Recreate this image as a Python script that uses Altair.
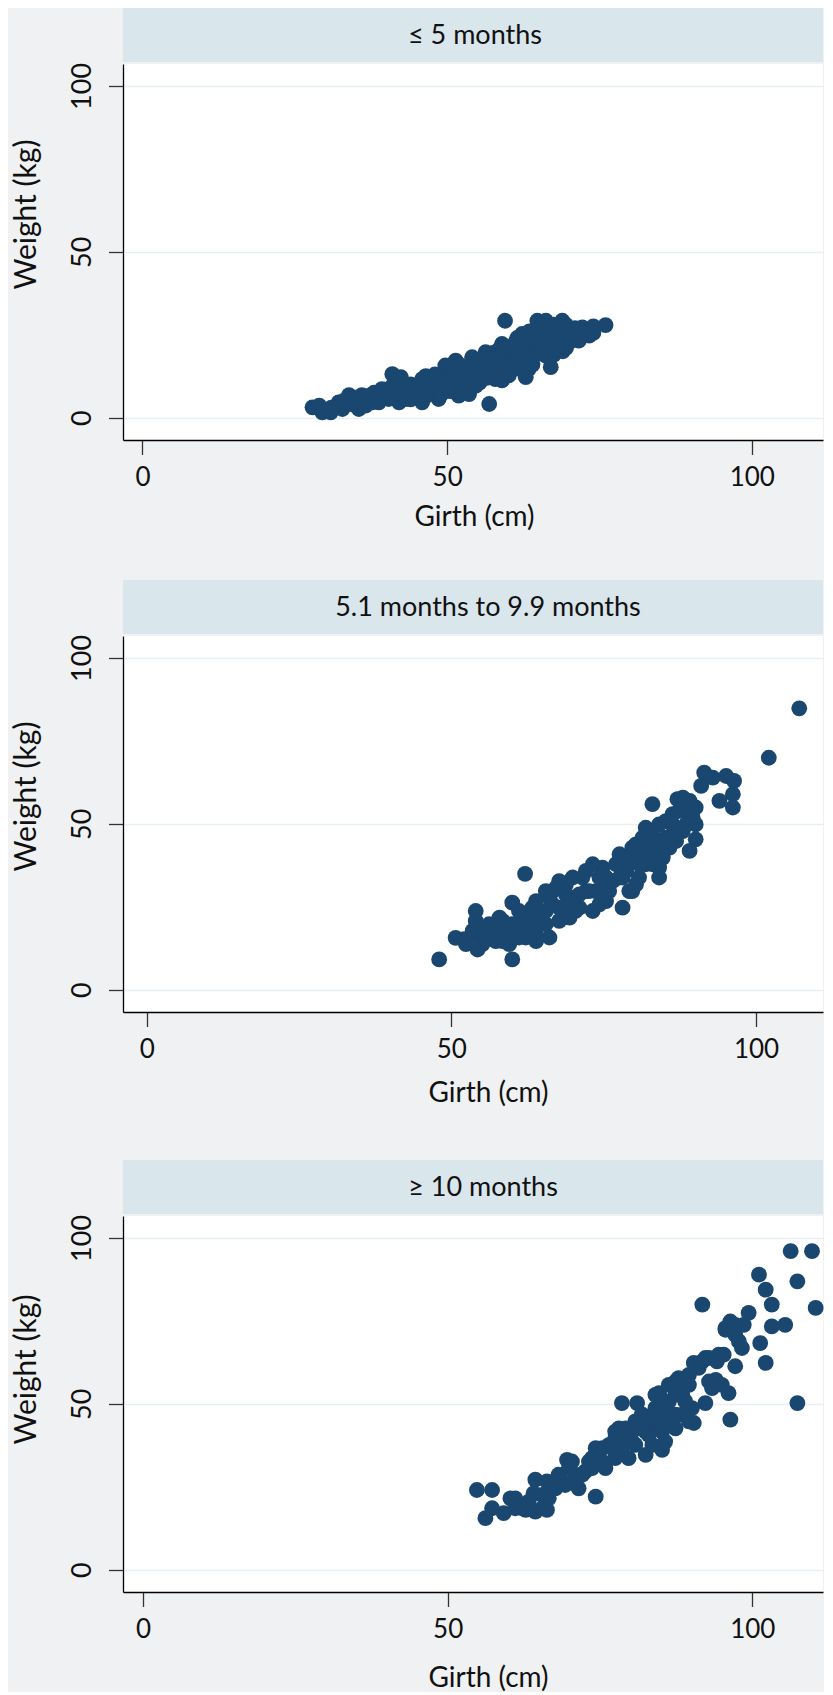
import altair as alt
import pandas as pd

PANELS = ["≤ 5 months", "5.1 months to 9.9 months", "≥ 10 months"]
X_TICKS = [0, 50, 100]
Y_TICKS = [0, 50, 100]

P1_GIRTH = [27.9, 29.5, 30.9, 33.9, 32.2, 35.5, 37.2, 38.8, 41.0, 42.4, 40.4, 42.1, 45.9, 45.9,
            43.7, 48.1, 49.7, 51.9, 51.4, 49.7, 53.0, 54.1, 54.7, 56.9, 56.3, 55.8, 59.0, 57.9,
            59.5, 59.0, 61.2, 61.2, 62.3, 63.4, 62.9, 64.8, 66.2, 67.0, 65.6, 66.2, 68.9, 68.3,
            70.0, 70.5, 72.2, 73.3, 76.0, 67.8, 64.5, 60.1, 56.9, 52.5, 50.3, 47.5, 44.8, 39.3,
            37.7, 35.0, 32.8, 48.6, 54.7, 57.9, 61.8, 60.1, 53.6, 63.4, 69.0, 71.6, 29.0, 36.6,
            40.4, 43.2, 64.0,
            31.0, 33.0, 33.0, 34.5, 34.5, 36.0, 36.0, 38.0, 38.0, 39.5, 41.0, 41.0, 42.5, 42.5,
            44.0, 44.0, 45.0, 45.0, 46.5, 46.5, 46.5, 48.0, 48.0, 49.0, 49.0, 50.5, 50.5, 50.5,
            52.0, 52.0, 52.0, 53.0, 53.0, 54.0, 54.0, 54.0, 55.3, 55.3, 55.3, 56.5, 56.5, 56.5,
            57.5, 57.5, 58.5, 58.5, 58.5, 59.8, 59.8, 60.5, 60.5, 61.5, 61.5, 61.5, 62.5, 62.5,
            62.5, 63.5, 63.5, 63.5, 64.5, 64.5, 64.5, 65.5, 65.5, 65.5, 66.5, 66.5, 66.5, 67.5,
            67.5, 67.5, 68.5, 68.5, 69.5, 69.5, 69.5, 71.0, 71.0, 72.5, 74.0, 74.0]
P1_WEIGHT = [3.1, 1.6, 1.6, 6.8, 4.6, 2.6, 6.6, 4.6, 13.1, 12.2, 8.6, 4.6, 11.6, 4.6,
             7.6, 7.6, 15.7, 6.6, 17.2, 9.6, 12.7, 18.2, 9.6, 4.1, 19.7, 12.7, 11.2, 16.7,
             29.2, 22.2, 22.7, 14.7, 25.2, 19.7, 12.2, 29.2, 29.2, 15.2, 24.7, 18.7, 29.2, 20.7,
             22.7, 26.7, 27.2, 24.7, 27.9, 24.7, 21.7, 18.7, 14.7, 9.6, 13.7, 11.6, 8.6, 8.6,
             4.6, 5.6, 2.6, 5.6, 14.7, 11.6, 18.7, 12.7, 7.1, 14.7, 20.0, 23.2, 3.6, 3.6,
             5.6, 5.6, 16.0,
             3.0, 3.5, 5.0, 4.0, 6.0, 4.5, 6.8, 5.5, 7.5, 6.0, 6.0, 9.5, 7.0, 9.0,
             5.5, 10.0, 7.0, 9.5, 6.5, 9.0, 12.5, 10.0, 13.0, 7.0, 11.5, 8.0, 11.0, 15.5,
             10.5, 13.5, 16.0, 9.0, 15.0, 11.0, 13.0, 16.5, 10.5, 14.0, 17.5, 12.0, 16.0, 18.5,
             13.5, 19.5, 14.0, 17.5, 20.5, 15.0, 20.0, 16.0, 21.0, 17.0, 20.0, 24.0, 15.0, 18.0,
             22.0, 17.0, 22.5, 26.0, 19.0, 24.0, 26.0, 20.5, 22.0, 26.0, 21.0, 25.0, 27.5, 19.0,
             22.5, 28.0, 23.0, 26.0, 21.0, 25.0, 28.0, 25.0, 27.0, 25.5, 25.5, 27.5]

P2_GIRTH = [48.0, 60.0, 54.0, 54.0, 52.1, 52.4, 54.3, 55.7, 57.3, 58.4, 60.0, 62.1, 61.1, 62.2,
            63.9, 64.4, 66.1, 65.5, 66.6, 67.7, 67.7, 69.4, 69.9, 71.0, 72.1, 73.2, 73.7, 74.8,
            75.4, 76.5, 77.6, 78.1, 78.7, 79.2, 80.3, 80.3, 81.9, 81.9, 83.0, 83.0, 84.1, 84.1,
            85.2, 84.1, 86.3, 87.1, 86.9, 89.1, 90.1, 90.1, 90.1, 89.1, 88.0, 91.0, 91.5, 92.9,
            95.1, 96.4, 96.2, 94.0, 96.2, 102.1, 107.1, 62.8, 66.1, 68.8, 71.0, 72.1, 74.8, 77.6,
            80.8, 79.7, 57.9, 55.7, 59.5, 63.9, 67.7, 69.4, 75.4, 73.2, 77.6, 79.7, 81.9, 83.0,
            84.7, 86.3, 88.5, 88.0, 50.7, 55.1, 57.3, 61.1, 63.9,
            53.5, 56.2, 58.4, 59.5, 61.1, 62.2, 63.3, 64.4, 65.5, 65.5, 66.6, 67.2, 68.8, 69.9,
            70.4, 71.5, 72.6, 74.3, 74.3, 75.9, 77.0, 78.1, 78.7, 79.7, 80.8, 81.4, 82.5, 83.0,
            83.6, 85.2, 85.8, 87.4, 88.5, 89.6, 89.1, 86.3, 84.7, 54.6, 57.3, 60.0]
P2_WEIGHT = [9.1, 9.1, 23.7, 20.7, 15.2, 13.7, 12.1, 15.7, 18.7, 14.6, 26.2, 34.9, 19.7, 15.7,
             26.7, 19.7, 15.7, 23.7, 29.7, 32.7, 24.7, 21.7, 33.8, 28.7, 35.8, 23.7, 29.7, 36.8,
             26.7, 32.8, 40.8, 24.7, 35.8, 29.7, 43.8, 31.7, 48.8, 37.8, 55.9, 42.8, 49.8, 33.8,
             45.8, 36.8, 52.9, 57.4, 44.8, 56.9, 54.9, 49.8, 45.3, 41.8, 47.8, 61.4, 65.4, 63.9,
             64.4, 62.9, 58.9, 56.9, 54.9, 69.9, 84.8, 21.7, 27.7, 28.7, 24.7, 29.7, 29.7, 33.8,
             37.8, 29.7, 21.7, 17.7, 13.7, 16.7, 20.7, 25.7, 33.8, 37.8, 37.8, 39.8, 41.8, 46.8,
             43.8, 49.8, 53.9, 57.9, 15.6, 13.7, 14.6, 15.7, 14.6,
             17.7, 19.7, 20.7, 17.7, 23.7, 18.7, 24.7, 22.7, 29.7, 19.7, 25.7, 30.7, 31.7, 27.7,
             23.7, 33.8, 29.7, 33.8, 25.7, 29.7, 37.8, 33.8, 39.8, 42.8, 33.8, 45.8, 39.8, 37.8,
             44.8, 50.8, 42.8, 53.9, 49.8, 51.9, 55.9, 46.8, 39.8, 15.7, 16.7, 19.7]

P3_GIRTH = [54.8, 57.3, 56.2, 57.3, 60.3, 59.2, 62.8, 64.4, 66.3, 64.4, 64.1, 66.3, 66.6, 68.8,
            69.6, 71.0, 71.5, 73.2, 74.3, 75.4, 75.9, 77.5, 78.1, 78.6, 81.1, 79.7, 80.8, 82.5,
            83.0, 84.7, 85.2, 85.7, 86.3, 87.9, 87.4, 88.5, 90.4, 90.1, 90.4, 92.3, 91.8, 92.3,
            94.0, 94.2, 95.3, 96.1, 96.4, 97.2, 95.6, 96.4, 98.3, 98.6, 99.4, 101.3, 102.2, 101.1,
            102.2, 103.2, 103.2, 105.4, 106.3, 109.8, 107.4, 110.4, 107.4, 72.1, 73.7, 76.5, 78.6,
            80.3, 81.9, 84.1, 83.6, 86.3, 88.5, 89.6, 85.2, 80.8, 77.5, 74.8, 69.9, 67.7, 68.2,
            61.1, 63.3, 87.4, 82.5, 79.7, 83.6, 95.0,
            61.1, 62.2, 65.5, 65.5, 67.2, 69.3, 70.4, 71.0, 72.6, 73.7, 74.3, 75.4, 77.0, 77.5,
            78.6, 79.2, 80.3, 81.4, 81.9, 83.0, 84.1, 84.1, 85.2, 85.7, 86.3, 87.4, 87.4, 88.5,
            89.0, 89.6, 89.6, 91.2, 91.8, 92.9, 94.5, 95.6, 97.2, 97.2, 97.8, 92.9, 93.4]
P3_WEIGHT = [24.0, 24.0, 15.5, 18.5, 21.5, 17.0, 18.0, 17.5, 18.0, 27.1, 23.0, 26.6, 21.5, 26.6,
             33.1, 28.6, 24.5, 32.6, 22.0, 36.6, 30.6, 33.6, 42.6, 50.2, 50.2, 38.6, 44.7, 34.6,
             40.6, 53.2, 36.1, 44.7, 55.7, 57.7, 46.7, 52.7, 62.3, 48.7, 44.2, 63.8, 79.9, 50.2,
             57.2, 62.8, 64.8, 53.2, 45.2, 61.3, 72.3, 74.8, 66.8, 73.8, 77.4, 68.3, 62.3, 88.9,
             84.4, 79.9, 73.3, 73.8, 96.0, 96.0, 86.9, 78.9, 50.2, 28.6, 30.6, 37.6, 40.6,
             42.6, 46.7, 48.7, 42.6, 50.7, 46.7, 55.7, 41.6, 37.6, 41.6, 33.6, 30.6, 24.5, 28.6,
             18.5, 20.5, 52.7, 41.6, 33.6, 37.6, 55.7,
             21.5, 18.5, 22.5, 18.5, 25.5, 25.5, 32.6, 26.6, 29.6, 33.6, 36.6, 32.6, 36.6, 39.6,
             36.6, 42.6, 38.6, 42.6, 46.7, 44.7, 52.7, 45.7, 49.7, 38.6, 46.7, 56.7, 42.6, 55.7,
             50.7, 58.7, 44.7, 60.8, 62.8, 63.8, 64.8, 72.8, 70.8, 73.8, 68.8, 56.7, 54.7]

BG = "#eff1f3"
HEADER = "#d9e6ec"
NAVY = "#1a476f"
GRID = "#e6eff3"
TEXT = "#111111"

W = 700
H_HEAD = 54
H_PLOT = 376
PX_PER_CM = 6.093
X_SPAN = W / PX_PER_CM
Y_DOMAIN = [-6.75, 106.6]

FONT = "Lato, sans-serif"


def panel(label, girth, weight, x_min, head_x, x_title_x, x_title_y, y_title_y):
    df = pd.DataFrame({"girth": girth, "weight": weight})
    head_df = pd.DataFrame({"label": [label]})
    band = alt.Chart(head_df).mark_rect(color=HEADER).encode(
        x=alt.value(0), x2=alt.value(W), y=alt.value(0), y2=alt.value(H_HEAD)
    )
    text = alt.Chart(head_df).mark_text(
        font=FONT, fontSize=27, color=TEXT, baseline="alphabetic", align="center"
    ).encode(text="label:N", x=alt.value(head_x), y=alt.value(36))
    header = alt.layer(band, text).properties(width=W, height=H_HEAD)

    pts = alt.Chart(df).mark_circle(size=250, color=NAVY, opacity=1).encode(
        x=alt.X(
            "girth:Q",
            scale=alt.Scale(domain=[x_min, x_min + X_SPAN], nice=False, zero=False),
            axis=alt.Axis(
                values=X_TICKS, title="Girth (cm)", grid=False,
                labelPadding=9.5, labelFontSize=26,
                titleX=x_title_x, titleY=x_title_y, titleAlign="center",
                titleBaseline="alphabetic", titleFontSize=28,
            ),
        ),
        y=alt.Y(
            "weight:Q",
            scale=alt.Scale(domain=Y_DOMAIN, nice=False, zero=False),
            axis=alt.Axis(
                values=Y_TICKS, title="Weight (kg)", grid=True, gridColor=GRID, gridWidth=1.6,
                labelAngle=270, labelAlign="center", labelBaseline="alphabetic",
                labelPadding=18, labelFontSize=27,
                titleAngle=270, titleX=-88, titleY=y_title_y, titleAlign="center",
                titleBaseline="alphabetic", titleFontSize=30,
            ),
        ),
    ).properties(width=W, height=H_PLOT)
    return alt.vconcat(header, pts, spacing=0)


p1 = panel(PANELS[0], P1_GIRTH, P1_WEIGHT, -3.20, 352, 351, 85, 150)
p2 = panel(PANELS[1], P2_GIRTH, P2_WEIGHT, -3.89, 365, 365, 89, 160)
p3 = panel(PANELS[2], P3_GIRTH, P3_WEIGHT, -3.28, 360, 365, 94, 153)

chart = alt.vconcat(p1, alt.vconcat(p2, p3, spacing=53), spacing=49).configure(
    background=BG,
    padding={"left": 3, "top": 0, "right": 0, "bottom": 0},
).configure_view(
    fill="white", stroke=None, strokeWidth=0
).configure_axis(
    domainColor="#000000", domainWidth=1.3, tickColor="#333333", tickWidth=1.3, tickSize=14.5,
    labelColor=TEXT, titleColor=TEXT, labelFont=FONT, titleFont=FONT,
    titleFontWeight="normal", labelFlush=False, labelOverlap=False,
).properties(
    usermeta={"embedOptions": {"defaultStyle": "body { background: #eff1f3; }"}}
)

chart.save("out.html", embed_options={"renderer": "svg", "actions": False})
